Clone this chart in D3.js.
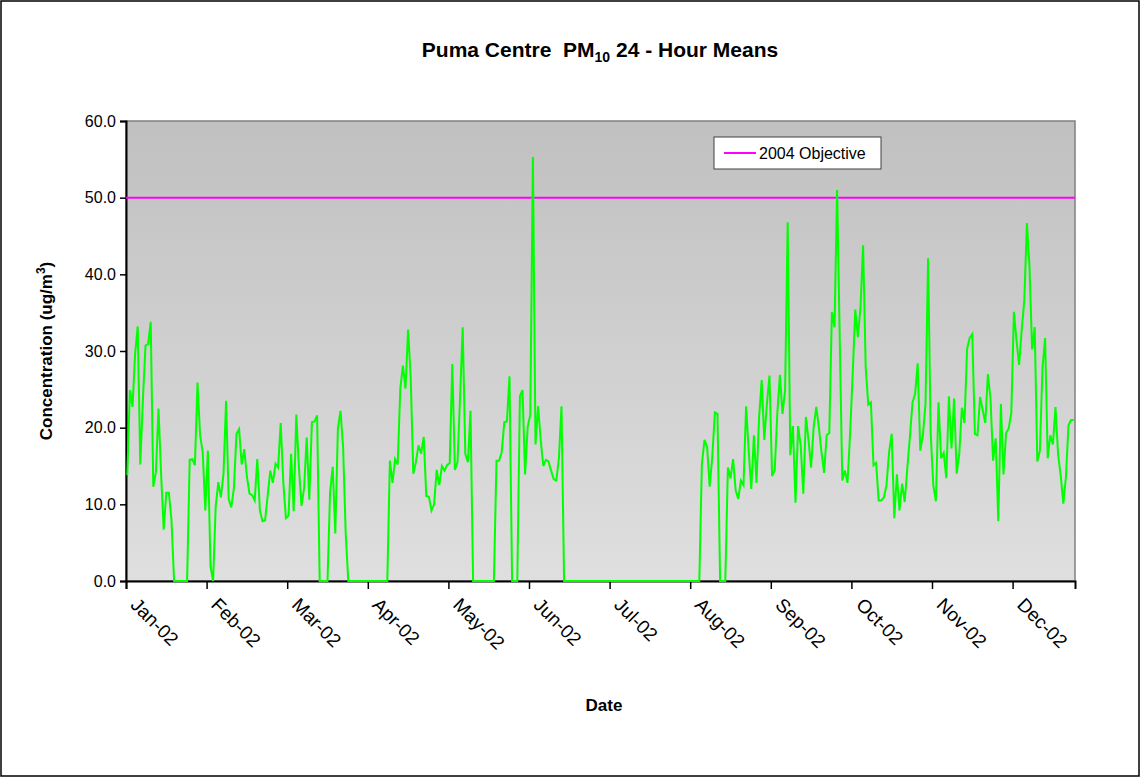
<!DOCTYPE html>
<html>
<head>
<meta charset="utf-8">
<script src="https://cdn.jsdelivr.net/npm/d3@7"></script>
<style>
  body { margin: 0; background: #fff; }
  text { font-family: "Liberation Sans", Arial, sans-serif; white-space: pre; }
</style>
</head>
<body>
<div id="chart"></div>
<script>
// PM10 24-hour means, one value per day of 2002 (0 = no data)
const pm10 = [
  13.8, 24.9, 22.7, 29.6, 33.2, 15.2, 23.6, 30.7, 30.9, 33.8,
  12.3, 14.2, 22.5, 14.0, 6.7, 11.5, 11.5, 7.9,
  0, 0, 0, 0, 0, 0,
  15.8, 15.9, 15.1, 25.9, 19.0, 16.8, 9.2, 17.0, 1.9, 0,
  9.7, 12.9, 10.9, 14.0, 23.5, 10.7, 9.6, 12.1, 19.2, 19.8,
  15.2, 17.2, 13.6, 11.4, 11.2, 10.5, 15.9, 9.2, 7.8, 7.9,
  11.2, 14.4, 12.8,
  15.3, 14.8, 20.6, 12.9, 8.2, 8.5, 16.6, 9.1, 21.7, 14.9,
  9.8, 12.1, 18.7, 10.6, 20.7, 20.8, 21.6,
  0, 0, 0, 0,
  11.6, 14.9, 6.2, 19.9, 22.2, 17.5, 6.2,
  0, 0, 0, 0, 0, 0, 0, 0, 0, 0, 0, 0, 0, 0, 0, 0,
  15.7, 12.8, 15.9, 15.2, 25.1, 28.1, 25.1, 32.8, 26.6, 14.0,
  15.5, 17.7, 16.6, 18.8,
  11.1, 11.0, 9.2, 10.0, 14.5, 12.5, 15.0, 14.4, 15.1, 15.4,
  28.3, 14.5, 15.5, 24.0, 33.1, 16.6, 15.5, 22.2,
  0, 0, 0, 0, 0, 0, 0, 0, 0,
  15.7, 15.7, 16.8, 20.7, 20.8, 26.7,
  0, 0, 0,
  24.1, 24.9, 13.9, 20.1, 21.7, 55.3, 17.8, 22.8, 18.4, 15.0,
  15.8, 15.6, 14.4, 13.3, 13.1, 16.0, 22.8,
  0, 0, 0, 0, 0, 0, 0, 0, 0, 0, 0, 0, 0, 0, 0, 0, 0, 0, 0, 0,
  0, 0, 0, 0, 0, 0, 0, 0, 0, 0, 0, 0, 0, 0, 0, 0, 0, 0, 0, 0,
  0, 0, 0, 0, 0, 0, 0, 0, 0, 0, 0, 0, 0,
  15.3, 18.4, 17.5, 12.3, 16.2, 22.0, 21.8,
  0, 0, 0,
  14.8, 13.4, 15.9, 11.8, 10.7, 13.1, 12.5, 22.8, 17.0, 12.0,
  19.0, 12.8, 21.4, 26.2, 18.4, 23.1, 26.8, 13.7, 14.4, 21.8,
  26.9, 21.8, 24.9, 46.8, 16.4, 20.2, 10.2, 20.2, 17.7, 11.4,
  21.4, 18.4, 14.8, 20.1, 22.7, 20.0, 16.8, 14.1, 19.0, 19.3,
  35.1, 33.1, 51.0, 32.0, 13.1, 14.4, 12.8, 19.2, 27.0, 35.4,
  31.8, 35.7, 43.8, 27.9, 23.0, 23.3, 15.1,
  15.4, 10.5, 10.5, 10.9, 12.5, 16.8, 19.2, 8.2, 13.9, 9.2,
  12.7, 10.3, 14.7, 18.8, 23.3, 24.4, 28.4, 17.0, 19.0, 23.1,
  42.1, 19.2, 12.5, 10.4, 23.3, 16.0, 16.7, 13.4, 24.1, 17.3,
  23.8, 14.0, 16.6, 22.6, 20.6, 30.3, 31.7, 32.2, 19.2, 19.0,
  24.0, 22.3, 20.6, 27.0, 23.8, 15.7, 18.6, 7.8, 23.1, 13.9,
  19.3, 19.9, 21.9, 35.1, 31.4, 28.2, 32.7, 36.6,
  46.7, 41.0, 30.2, 33.1, 15.6, 17.0, 27.8, 31.7, 16.0, 19.0,
  17.8, 22.7, 16.5, 13.8, 10.1, 13.5, 20.3, 21.0, 21.0
]
const objective = 50
const yTicks = [0, 10, 20, 30, 40, 50, 60]
const startDate = new Date(2002, 0, 1)
const labelEvery = 31   // one date label every 31 days

const width = 1141
const height = 778
const margin = {top: 121, right: 66, bottom: 197, left: 126}

const svg = d3.select('#chart')
    .append('svg')
    .attr('width', width)
    .attr('height', height)

// chart border
svg.append('rect')
    .attr('x', 1).attr('y', 1)
    .attr('width', width - 3).attr('height', height - 3)
    .attr('fill', 'white')
    .attr('stroke', 'black')
    .attr('stroke-width', 1.5)

let x = d3.scaleLinear()
    .domain([0, pm10.length])
    .range([margin.left, width - margin.right])

let y = d3.scaleLinear()
    .domain([0, 60])
    .range([height - margin.bottom, margin.top])

// plot area gradient
const grad = svg.append('defs').append('linearGradient')
    .attr('id', 'bg')
    .attr('x1', 0).attr('y1', 0).attr('x2', 0).attr('y2', 1)
grad.append('stop').attr('offset', '0%').attr('stop-color', '#c0c0c0')
grad.append('stop').attr('offset', '100%').attr('stop-color', '#dfdfdf')

svg.append('rect')
    .attr('x', x.range()[0])
    .attr('y', y(60))
    .attr('width', x.range()[1] - x.range()[0])
    .attr('height', y(0) - y(60))
    .attr('fill', 'url(#bg)')
    .attr('stroke', '#808080')
    .attr('stroke-width', 1.5)

// y axis
let yAxis = svg.append('g')
    .attr('transform', `translate(${x.range()[0]},0)`)
    .call(d3.axisLeft(y).tickValues(yTicks).tickFormat(d3.format('.1f')).tickSize(6).tickPadding(4))
yAxis.select('.domain').attr('stroke-width', 2)
yAxis.selectAll('.tick line').attr('stroke-width', 1.5)
yAxis.selectAll('text').attr('font-size', 16).attr('fill', 'black')

// x axis, ticks every 31 categories
const tickIdx = d3.range(0, pm10.length, labelEvery)
let xAxis = svg.append('g')
    .attr('transform', `translate(0,${y(0)})`)
    .call(d3.axisBottom(x).tickValues(tickIdx).tickSize(8)
        .tickFormat(i => d3.timeFormat('%b-%y')(d3.timeDay.offset(startDate, i))))
xAxis.select('.domain').attr('stroke-width', 2)
xAxis.selectAll('.tick line').attr('stroke-width', 1.5)
xAxis.selectAll('text')
    .attr('font-size', 19)
    .attr('fill', 'black')
    .attr('text-anchor', 'start')
    .attr('y', 0)
    .attr('dy', 0)
    .attr('transform', 'translate(3,25) rotate(45)')

// objective line
svg.append('line')
    .attr('x1', x.range()[0]).attr('x2', x.range()[1])
    .attr('y1', y(objective)).attr('y2', y(objective))
    .attr('stroke', '#ff00ff')
    .attr('stroke-width', 2)

// data line
let line = d3.line()
    .x((d, i) => x(i + 0.5))
    .y(d => y(d))

svg.append('path')
    .datum(pm10)
    .attr('d', line)
    .attr('fill', 'none')
    .attr('stroke', '#00ff00')
    .attr('stroke-width', 2)
    .attr('stroke-linejoin', 'miter')

// legend
let legend = svg.append('g').attr('transform', 'translate(714,137)')
legend.append('rect')
    .attr('width', 167).attr('height', 32)
    .attr('fill', 'white')
    .attr('stroke', '#404040')
    .attr('stroke-width', 1)
legend.append('line')
    .attr('x1', 10).attr('x2', 42).attr('y1', 16).attr('y2', 16)
    .attr('stroke', '#ff00ff').attr('stroke-width', 2)
legend.append('text')
    .attr('x', 45).attr('y', 22)
    .attr('font-size', 16)
    .text('2004 Objective')

// title
let title = svg.append('text')
    .attr('x', 600).attr('y', 57)
    .attr('text-anchor', 'middle')
    .attr('font-size', 21)
    .attr('font-weight', 'bold')
title.append('tspan').text('Puma Centre  PM')
title.append('tspan').attr('font-size', 14).attr('dy', 5).text('10')
title.append('tspan').attr('dy', -5).text(' 24 - Hour Means')

// axis titles
let yTitle = svg.append('text')
    .attr('transform', `translate(52,${(y(0) + y(60)) / 2}) rotate(-90)`)
    .attr('text-anchor', 'middle')
    .attr('font-size', 17)
    .attr('font-weight', 'bold')
yTitle.append('tspan').text('Concentration (ug/m')
yTitle.append('tspan').attr('font-size', 12).attr('dy', -7).text('3')
yTitle.append('tspan').attr('dy', 7).text(')')

svg.append('text')
    .attr('x', 604).attr('y', 711)
    .attr('text-anchor', 'middle')
    .attr('font-size', 17)
    .attr('font-weight', 'bold')
    .text('Date')
</script>
</body>
</html>
